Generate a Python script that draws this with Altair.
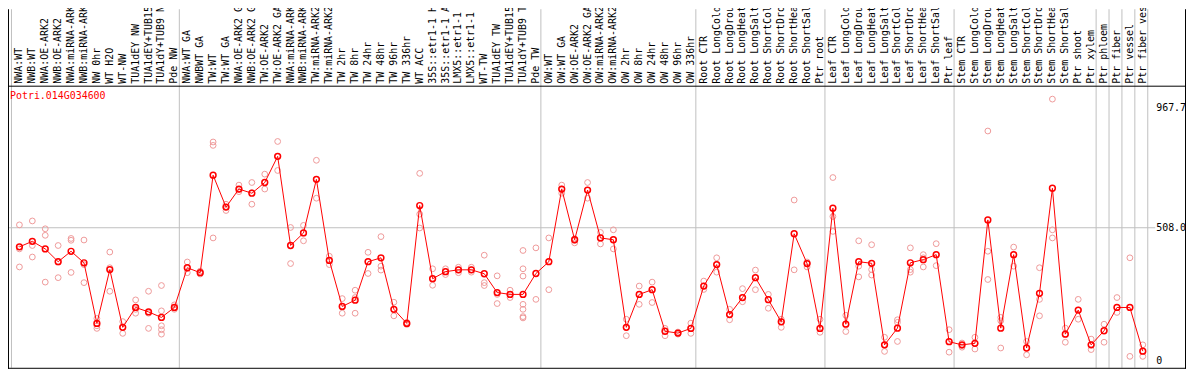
import itertools
import altair as alt
import pandas as pd

gene = "Potri.014G034600"

labels = [
    "NWA:WT", "NWB:WT", "NWA:OE-ARK2", "NWB:OE-ARK2", "NWA:miRNA-ARK2", "NWB:miRNA-ARK2",
    "NW 0hr", "WT H2O", "WT-NW", "TUA1dEY NW", "TUA1dEY+TUB15", "TUA1dY+TUB9 NW", "Pde NW",
    "NWA:WT GA", "NWBWT GA", "TW:WT", "TW:WT GA", "NWA:OE-ARK2 GA", "NWB:OE-ARK2 GA",
    "TW:OE-ARK2", "TW:OE-ARK2 GA", "NWA:miRNA-ARK2", "NWB:miRNA-ARK2", "TW:miRNA-ARK2",
    "TW:miRNA-ARK2", "TW 2hr", "TW 8hr", "TW 24hr", "TW 48hr", "TW 96hr", "TW 336hr",
    "WT ACC", "35S::etr1-1 H2O", "35S::etr1-1 ACC", "LMX5::etr1-1 H2O", "LMX5::etr1-1 ACC",
    "WT-TW", "TUA1dEY TW", "TUA1dEY+TUB15 TW", "TUA1dY+TUB9 TW", "Pde TW",
    "OW:WT", "OW:WT GA", "OW:OE-ARK2", "OW:OE-ARK2 GA", "OW:miRNA-ARK2", "OW:miRNA-ARK2",
    "OW 2hr", "OW 8hr", "OW 24hr", "OW 48hr", "OW 96hr", "OW 336hr",
    "Root CTR", "Root LongCold", "Root LongDrought", "Root LongHeat", "Root LongSalt",
    "Root ShortCold", "Root ShortDrought", "Root ShortHeat", "Root ShortSalt", "Ptr root",
    "Leaf CTR", "Leaf LongCold", "Leaf LongDrought", "Leaf LongHeat", "Leaf LongSalt",
    "Leaf ShortCold", "Leaf ShortDrought", "Leaf ShortHeat", "Leaf ShortSalt", "Ptr leaf",
    "Stem CTR", "Stem LongCold", "Stem LongDrought", "Stem LongHeat", "Stem LongSalt",
    "Stem ShortCold", "Stem ShortDrought", "Stem ShortHeat", "Stem ShortSalt", "Ptr shoot",
    "Ptr xylem", "Ptr phloem", "Ptr fiber", "Ptr vessel", "Ptr fiber vessel",
]

group_sizes = [13, 28, 12, 10, 10, 11, 1, 1, 1, 1]

means = [
    435, 456, 427, 378, 418, 374, 142, 348, 127, 203, 186, 165, 203,
    355, 336, 709, 587, 656, 640, 681, 781, 440, 488, 693, 383, 207, 231, 378, 393, 196,
    142, 593, 313, 340, 347, 347, 332, 260, 253, 253, 333,
    378, 656, 462, 652, 469, 462, 127, 253, 271, 112, 105, 123,
    285, 367, 176, 241, 317, 233, 148, 485, 371, 123,
    583, 139, 378, 372, 60, 124, 374, 386, 405, 72,
    60, 66, 538, 124, 405, 48, 257, 659, 101, 193, 60,
    114, 203, 203, 36,
]

replicates = [
    [519, 427, 358], [534, 440, 396], [504, 479, 300], [440, 377, 317], [467, 460, 337],
    [461, 367, 298], [161, 133, 123], [415, 355, 265], [149, 127, 104], [232, 196, 181],
    [265, 181, 123], [287, 190, 133, 118, 101], [213, 200, 196],
    [377, 352, 336], [342, 336, 331], [836, 823, 469], [598, 587, 574], [671, 655, 646],
    [681, 642, 598], [713, 681, 656], [838, 781, 727], [509, 440, 371], [517, 488, 458],
    [766, 693, 621], [399, 383, 367], [237, 207, 181], [269, 241, 181], [414, 378, 333],
    [474, 361, 346], [223, 196, 171], [146, 142, 138], [716, 560, 507], [351, 313, 288],
    [351, 340, 329], [357, 347, 336], [357, 347, 338], [403, 298, 287], [324, 253, 218],
    [269, 253, 241], [421, 351, 323, 215, 196, 168, 163], [431, 333, 234],
    [469, 378, 271], [671, 656, 640], [466, 460, 450], [681, 652, 621], [490, 469, 446],
    [500, 462, 427], [158, 127, 95], [285, 253, 215], [300, 271, 222], [123, 112, 95],
    [109, 105, 101], [143, 123, 104],
    [304, 285, 272], [393, 367, 338], [196, 176, 156], [275, 241, 225], [346, 317, 271],
    [253, 233, 200], [158, 148, 127], [614, 485, 347], [377, 371, 358], [158, 123, 108],
    [700, 551, 494], [173, 139, 111], [458, 361, 320], [443, 348, 327], [89, 60, 35],
    [156, 146, 73], [431, 348, 338], [405, 393, 358], [447, 405, 363], [118, 72, 32],
    [67, 57, 51], [89, 66, 44], [878, 418, 310], [165, 152, 48], [434, 405, 361],
    [73, 48, 22], [355, 234, 171], [1000, 500, 469], [124, 101, 70], [234, 193, 158],
    [82, 60, 42],
    [139, 114, 70], [241, 203, 184], [393, 203, 16], [60, 36, 16],
]

y_ticks = [0, 508.0, 967.7]
y_tick_labels = ["0", "508.0", "967.7"]
grid_values = [508.0]

# ---- tables built from the arrays above ----
idx = list(range(1, len(labels) + 1))
mean_df = pd.DataFrame({"i": idx, "label": labels, "mean": means})
rep_df = pd.DataFrame(
    [{"i": i, "v": v} for i, vals in zip(idx, replicates) for v in vals]
)
bounds = [0] + list(itertools.accumulate(group_sizes))
bound_df = pd.DataFrame({"b": [b + 0.5 for b in bounds]})
tick_df = pd.DataFrame({"v": y_ticks, "t": y_tick_labels})
grid_df = pd.DataFrame({"v": grid_values})
one = pd.DataFrame({"g": [gene]})

W, H = 1148, 284
xs = alt.Scale(domain=[0.11538, 88.4231], nice=False, zero=False)
ys = alt.Scale(domain=[-27.7, 1051.3], nice=False, zero=False)
FONT = "DejaVu Sans Mono"
GRID = "#c0c0c0"
PINK = "#ee9999"
RED = "#ff0000"

vgrid = alt.Chart(bound_df).mark_rule(color=GRID, strokeWidth=1, xOffset=-1.5).encode(
    x=alt.X("b:Q", scale=xs, axis=None), y=alt.value(-77), y2=alt.value(H)
)
hgrid = alt.Chart(grid_df).mark_rule(color=GRID, strokeWidth=1).encode(
    y=alt.Y("v:Q", scale=ys, axis=None), x=alt.value(0), x2=alt.value(1155)
)
reps = alt.Chart(rep_df).mark_point(
    shape="circle", filled=False, size=34, color=PINK, strokeWidth=1, opacity=1
).encode(x=alt.X("i:Q", scale=xs, axis=None), y=alt.Y("v:Q", scale=ys, axis=None))
line = alt.Chart(mean_df).mark_line(color=RED, strokeWidth=1).encode(
    x=alt.X("i:Q", scale=xs, axis=None), y=alt.Y("mean:Q", scale=ys, axis=None)
)
pts = alt.Chart(mean_df).mark_point(
    shape="circle", filled=False, size=34, color=RED, strokeWidth=1.5, opacity=1
).encode(x=alt.X("i:Q", scale=xs, axis=None), y=alt.Y("mean:Q", scale=ys, axis=None))
xlab = alt.Chart(mean_df).mark_text(
    angle=270, align="left", baseline="middle", font=FONT, fontSize=10, color="black"
).encode(x=alt.X("i:Q", scale=xs, axis=None), y=alt.value(-2), text="label:N")
ylab = alt.Chart(tick_df).mark_text(
    align="left", baseline="middle", font=FONT, fontSize=10, color="black"
).encode(x=alt.value(1156), y=alt.Y("v:Q", scale=ys, axis=None), text="t:N")
title = alt.Chart(one).mark_text(
    align="left", baseline="middle", font=FONT, fontSize=10, color=RED
).encode(x=alt.value(2), y=alt.value(10.5), text="g:N")

frame_left = alt.Chart(one).mark_rule(color="black", strokeWidth=1).encode(
    x=alt.value(0.5), y=alt.value(-77), y2=alt.value(H + 1)
)
frame_right = alt.Chart(one).mark_rule(color="black", strokeWidth=1).encode(
    x=alt.value(1185.5), y=alt.value(-77), y2=alt.value(H + 1)
)
frame_top = alt.Chart(one).mark_rule(color="black", strokeWidth=1).encode(
    y=alt.value(0.5), x=alt.value(0), x2=alt.value(1186)
)
frame_bottom = alt.Chart(one).mark_rule(color="black", strokeWidth=1).encode(
    y=alt.value(H + 0.5), x=alt.value(0), x2=alt.value(1186)
)

chart = alt.layer(
    vgrid, hgrid, reps, line, pts, xlab, ylab, title,
    frame_left, frame_right, frame_top, frame_bottom,
).properties(
    width=W,
    height=H,
    autosize=alt.AutoSizeParams(type="none"),
    padding={"left": 0, "top": 77, "right": 38, "bottom": 1},
    background="white",
).configure_view(stroke=None)

chart.save("out.html", embed_options={"renderer": "svg", "actions": False})
